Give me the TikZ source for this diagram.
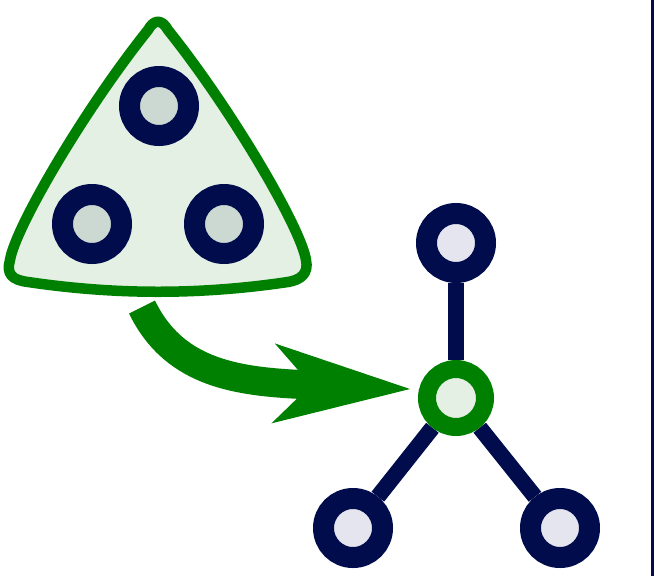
\documentclass[tikz,border=0pt]{standalone}
\usetikzlibrary{arrows.meta,backgrounds}
\definecolor{netnavy}{RGB}{0,12,75}
\definecolor{netgreen}{RGB}{0,128,0}
\definecolor{greenlight}{RGB}{229,240,229}
\definecolor{greylight}{RGB}{204,217,210}
\definecolor{navylight}{RGB}{229,229,240}

\begin{document}
\begin{tikzpicture}[
        x=1pt,y=-1pt,
        ring/.style={circle,draw=netnavy,line width=21pt,fill=greylight,
          minimum size=59pt,inner sep=0pt},
        leaf/.style={ring,fill=navylight},
        hub/.style={ring,draw=netgreen,line width=18pt,fill=greenlight,minimum size=58pt},
        pod/.style={draw=netgreen,line width=10.5pt,fill=greenlight,line join=round},
        link/.style={draw=netnavy,line width=16pt},
        flow/.style={draw=netgreen,line width=29pt,
          -{Stealth[length=137pt,width=80pt,inset=38pt,line width=0pt]}}
      ]
        \useasboundingbox (0,0) rectangle (655,576);
        % group of three
        \path[pod] (148,30) .. controls (154,19) and (162,19) .. (168,30)
          .. controls (232,110) and (301,228) .. (306,260)
          .. controls (309,274) and (300,280) .. (288,282)
          .. controls (200,295) and (116,295) .. (28,282)
          .. controls (12,280) and (6,274) .. (10,260)
          .. controls (15,228) and (84,110) .. (148,30) -- cycle;
        \node[ring] (a) at (159,106) {};
        \node[ring] (b) at (92,224) {};
        \node[ring] (c) at (224,224) {};
        % star
        \node[leaf] (top) at (456,243) {};
        \node[hub] (mid) at (456,398) {};
        \node[leaf] (left) at (353,528) {};
        \node[leaf] (right) at (560,528) {};
        \begin{scope}[on background layer]
          \draw[link] (mid) -- (top);
          \draw[link] (mid) -- (left);
          \draw[link] (mid) -- (right);
        \end{scope}
        \coordinate (src) at (142,307);
        \coordinate (tip) at (410,389);
        \draw[flow] (src) .. controls (175,375) and (240,382) .. (tip);
        \draw[netnavy,line width=3pt] (652.5,0) -- (652.5,576);
      \end{tikzpicture}
\end{document}
